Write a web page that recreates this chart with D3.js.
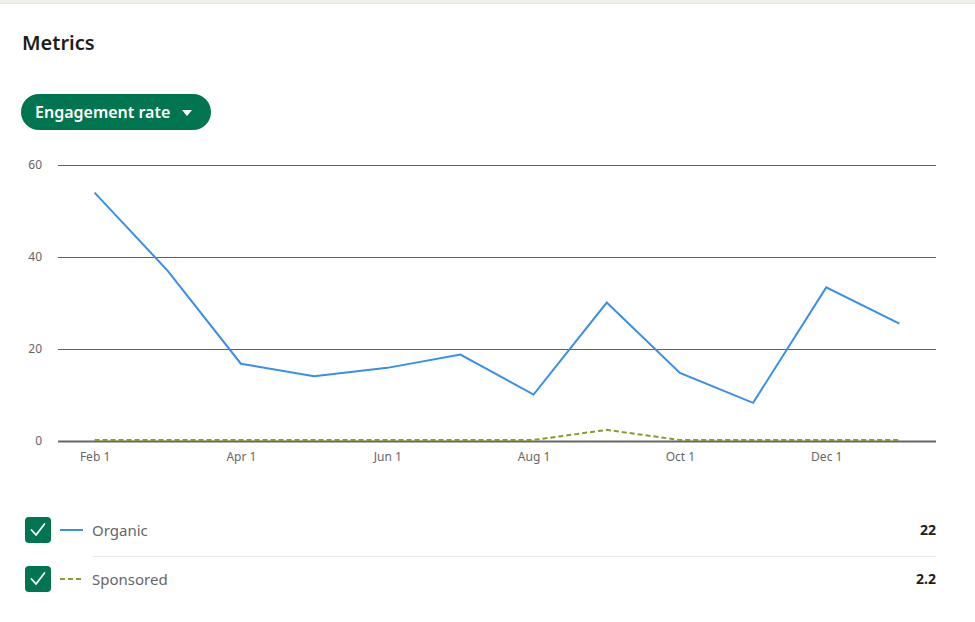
<!DOCTYPE html>
<html>
<head>
<meta charset="utf-8">
<script src="https://cdn.jsdelivr.net/npm/d3@7"></script>
<style>
  html, body { margin: 0; padding: 0; background: #fff; }
  svg { display: block; font-family: "Noto Sans", "Open Sans", sans-serif; }
</style>
</head>
<body>
<svg id="chart" width="975" height="622"></svg>
<script>
const months = ["Feb", "Mar", "Apr", "May", "Jun", "Jul", "Aug", "Sep", "Oct", "Nov", "Dec", "Jan"];
const tickMonths = ["Feb", "Apr", "Jun", "Aug", "Oct", "Dec"];
const yTicks = [0, 20, 40, 60];
const organic = [54.0, 37.0, 16.8, 14.1, 15.9, 18.8, 10.1, 30.1, 14.8, 8.3, 33.4, 25.5];
const sponsored = [0, 0, 0, 0, 0, 0, 0, 2.2, 0, 0, 0, 0];
const seriesNames = ["Organic", "Sponsored"];
const seriesTotals = ["22", "2.2"];
const title = "Metrics";
const buttonLabel = "Engagement rate";

const svg = d3.select("#chart");

// top strip
svg.append("rect").attr("x", 0).attr("y", 0).attr("width", 975).attr("height", 3).attr("fill", "#f3f1ed");
svg.append("line").attr("x1", 0).attr("x2", 975).attr("y1", 3.5).attr("y2", 3.5).attr("stroke", "#e6e4e0");

svg.append("text").attr("x", 22).attr("y", 50).text(title)
  .attr("font-size", 20).attr("font-weight", 600).attr("fill", "#1d1d1d");

// button
const btn = svg.append("g");
btn.append("rect").attr("x", 21).attr("y", 94).attr("width", 190).attr("height", 36).attr("rx", 18)
  .attr("fill", "#01754f");
btn.append("text").attr("x", 35).attr("y", 118).text(buttonLabel)
  .attr("font-size", 16).attr("font-weight", 600).attr("fill", "#fff");
btn.append("path").attr("d", "M182,110 L192,110 L187,116 Z").attr("fill", "#fff");

const x = d3.scalePoint().domain(months).range([58, 936]).padding(0.5);
const y = d3.scaleLinear().domain([0, 60]).range([441, 165]);

// grid
const yAxis = d3.axisLeft(y).tickValues(yTicks).tickSize(-(936 - 58)).tickPadding(16);
const gy = svg.append("g").attr("transform", "translate(58,0)").call(yAxis);
gy.select(".domain").remove();
gy.selectAll(".tick line").attr("stroke", "#5f5f5f").attr("stroke-width", 1);
gy.selectAll(".tick").filter(d => d === 0).select("line").attr("stroke-width", 2).attr("stroke", "#666");
gy.selectAll(".tick text").attr("font-size", 12).attr("fill", "#666").attr("font-family", "Noto Sans, sans-serif");

const xAxis = d3.axisBottom(x).tickValues(tickMonths).tickSize(0).tickPadding(11).tickFormat(d => d + " 1");
const gx = svg.append("g").attr("transform", "translate(0,441)").call(xAxis);
gx.select(".domain").remove();
gx.selectAll(".tick text").attr("font-size", 12).attr("fill", "#666").attr("font-family", "Noto Sans, sans-serif");

const line = d3.line().x((d, i) => x(months[i])).y(d => y(d));

svg.append("path").datum(sponsored).attr("d", line)
  .attr("fill", "none").attr("stroke", "#8a9a2b").attr("stroke-width", 2).attr("stroke-dasharray", "5,3")
  .attr("transform", "translate(0,-1)");
svg.append("path").datum(organic).attr("d", line)
  .attr("fill", "none").attr("stroke", "#378fe9").attr("stroke-width", 2);

// legend
const legendColors = ["#378fe9", "#8a9a2b"];
const rowsY = [530, 579];
seriesNames.forEach((name, i) => {
  const cy = rowsY[i];
  const g = svg.append("g");
  g.append("rect").attr("x", 25).attr("y", cy - 13).attr("width", 26).attr("height", 26).attr("rx", 4).attr("fill", "#01754f");
  g.append("path").attr("d", `M31.5,${cy} L36,${cy + 5} L44.5,${cy - 6}`).attr("fill", "none")
    .attr("stroke", "#fff").attr("stroke-width", 1.8).attr("stroke-linecap", "round").attr("stroke-linejoin", "round");
  g.append("line").attr("x1", 60).attr("x2", 83).attr("y1", cy).attr("y2", cy)
    .attr("stroke", legendColors[i]).attr("stroke-width", 2)
    .attr("stroke-dasharray", i === 1 ? "5,3" : null);
  g.append("text").attr("x", 92).attr("y", cy + 5.5).text(name).attr("font-size", 15).attr("fill", "#666");
  g.append("text").attr("x", 936).attr("y", cy + 5).attr("text-anchor", "end").text(seriesTotals[i])
    .attr("font-size", 14).attr("font-weight", 700).attr("fill", "#1d1d1d");
});
svg.append("line").attr("x1", 92).attr("x2", 936).attr("y1", 556.5).attr("y2", 556.5).attr("stroke", "#e8e8e8");
</script>
</body>
</html>
